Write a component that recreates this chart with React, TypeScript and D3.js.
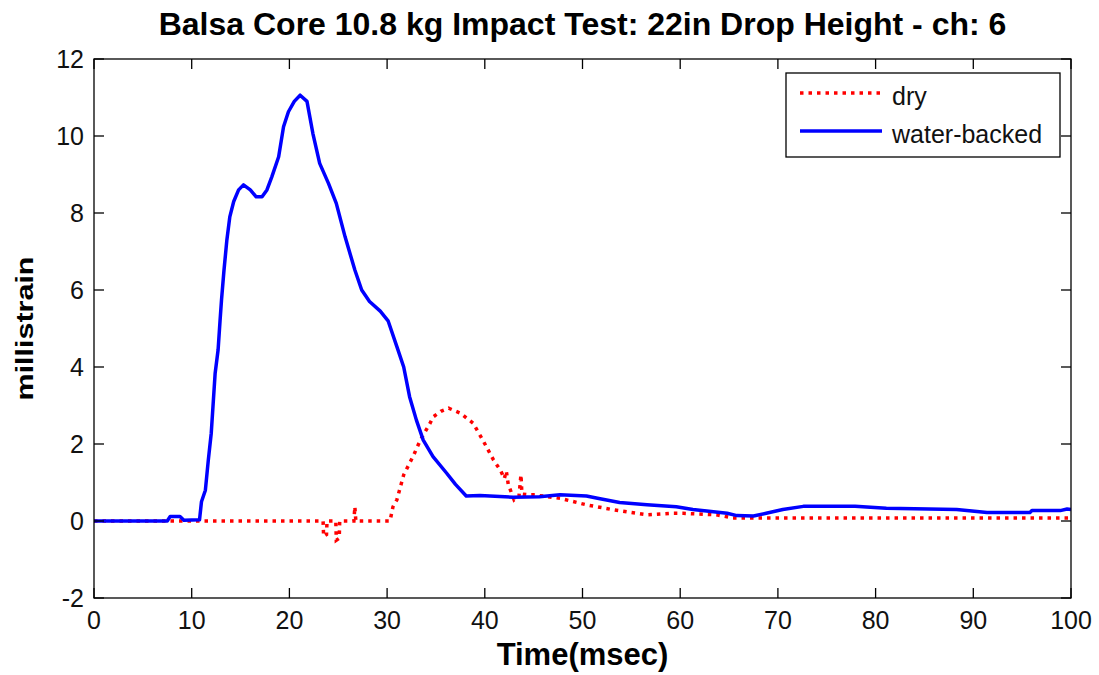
import React from "react";
import * as d3 from "d3";

const W = 1099;
const H = 675;

const titleText = "Balsa Core 10.8 kg Impact Test: 22in Drop Height - ch: 6";
const xLabel = "Time(msec)";
const yLabel = "millistrain";
const xTicks = [0, 10, 20, 30, 40, 50, 60, 70, 80, 90, 100];
const yTicks = [-2, 0, 2, 4, 6, 8, 10, 12];
const seriesNames = ["dry", "water-backed"];

const waterT = [0, 7.5, 7.8, 8.8, 9.2, 10.8, 11.0, 11.4, 11.7, 12.0, 12.2, 12.4, 12.7, 12.9, 13.05, 13.3, 13.6, 13.9, 14.3, 14.8, 15.3, 16.0, 16.6, 17.2, 17.7, 18.2, 18.9, 19.4, 19.9, 20.5, 21.1, 21.8, 22.4, 23.1, 24.0, 24.8, 25.7, 26.7, 27.4, 28.2, 29.3, 30.1, 31.0, 31.7, 32.3, 33.0, 33.7, 34.7, 36.1, 37.0, 38.1, 39.5, 42.9, 45.6, 47.7, 50.4, 51.8, 53.8, 56.6, 59.6, 61.3, 63.4, 64.8, 65.8, 67.5, 68.8, 70.5, 72.6, 77.9, 81.1, 88.3, 91.4, 95.8, 96.0, 98.9, 99.6, 100];
const waterV = [0, 0, 0.12, 0.12, 0.02, 0.03, 0.5, 0.8, 1.58, 2.28, 3.06, 3.84, 4.44, 5.2, 5.74, 6.5, 7.3, 7.9, 8.3, 8.6, 8.73, 8.6, 8.42, 8.42, 8.6, 8.94, 9.46, 10.24, 10.63, 10.9, 11.06, 10.9, 10.07, 9.29, 8.77, 8.25, 7.38, 6.52, 6.0, 5.7, 5.45, 5.2, 4.53, 4.0, 3.23, 2.62, 2.1, 1.67, 1.24, 0.95, 0.65, 0.66, 0.62, 0.63, 0.68, 0.65, 0.58, 0.48, 0.42, 0.37, 0.3, 0.24, 0.2, 0.14, 0.13, 0.2, 0.3, 0.38, 0.38, 0.33, 0.3, 0.22, 0.22, 0.27, 0.27, 0.31, 0.3];

const dryT = [0, 23.45, 23.5, 23.8, 23.85, 24.75, 24.8, 25.1, 25.15, 26.6, 26.7, 26.8, 30.3, 30.6, 31.0, 31.7, 32.7, 33.4, 34.4, 34.7, 35.5, 36.3, 37.5, 38.8, 39.8, 40.9, 41.6, 42.0, 42.2, 42.4, 42.7, 43.0, 43.5, 43.7, 43.8, 44.5, 45.0, 47.7, 50.4, 53.2, 56.6, 59.3, 60.3, 63.7, 65.4, 100];
const dryV = [0, 0, -0.4, -0.35, 0, 0, -0.5, -0.45, 0, 0, 0.37, 0, 0, 0.37, 0.55, 1.2, 1.7, 2.1, 2.54, 2.7, 2.85, 2.93, 2.8, 2.54, 2.1, 1.58, 1.32, 1.1, 1.3, 0.95, 0.75, 0.55, 0.65, 1.2, 0.7, 0.68, 0.68, 0.59, 0.42, 0.29, 0.16, 0.2, 0.2, 0.16, 0.08, 0.08];

const left = 94, right = 1071, top = 59, bottom = 598;
const sans = "'Liberation Sans', Arial, Helvetica, sans-serif";

export default function App() {
  const x = d3.scaleLinear().domain([0, 100]).range([left, right]);
  const y = d3.scaleLinear().domain([-2, 12]).range([bottom, top]);
  const line = d3.line<[number, number]>().x((d) => x(d[0])).y((d) => y(d[1]));
  const water: [number, number][] = waterT.map((t, i) => [t, waterV[i]]);
  const dry: [number, number][] = dryT.map((t, i) => [t, dryV[i]]);
  const tl = 10;

  return (
    <svg width={W} height={H} style={{ position: "absolute", left: 0, top: 0, background: "#fff" }} fontFamily={sans}>
      <rect x={0} y={0} width={W} height={H} fill="#fff" />
      <defs>
        <clipPath id="plotclip">
          <rect x={left} y={top} width={right - left} height={bottom - top} />
        </clipPath>
      </defs>
      <g clipPath="url(#plotclip)">
        <path d={line(dry) || ""} fill="none" stroke="#ff0000" strokeWidth={3.5} strokeDasharray="3.5,5" />
        <path d={line(water) || ""} fill="none" stroke="#0000ff" strokeWidth={3.5} strokeLinejoin="round" />
      </g>
      <rect x={left} y={top} width={right - left} height={bottom - top} fill="none" stroke="#000" strokeWidth={1.3} />
      {xTicks.map((t) => (
        <g key={"x" + t}>
          <line x1={x(t)} x2={x(t)} y1={bottom} y2={bottom - tl} stroke="#000" strokeWidth={1.3} />
          <line x1={x(t)} x2={x(t)} y1={top} y2={top + tl} stroke="#000" strokeWidth={1.3} />
          <text x={x(t)} y={629} fontSize={25} textAnchor="middle" fill="#111">{t}</text>
        </g>
      ))}
      {yTicks.map((t) => (
        <g key={"y" + t}>
          <line x1={left} x2={left + tl} y1={y(t)} y2={y(t)} stroke="#000" strokeWidth={1.3} />
          <line x1={right} x2={right - tl} y1={y(t)} y2={y(t)} stroke="#000" strokeWidth={1.3} />
          <text x={84} y={y(t) + 9} fontSize={25} textAnchor="end" fill="#111">{t}</text>
        </g>
      ))}
      <text x={(left + right) / 2} y={35} fontSize={32} fontWeight="bold" textAnchor="middle" fill="#000">{titleText}</text>
      <text x={(left + right) / 2} y={665} fontSize={31} fontWeight="bold" textAnchor="middle" fill="#000">{xLabel}</text>
      <text transform={`translate(33,${(257 + 400) / 2}) rotate(-90) scale(1.27,1)`} x={0} y={0} fontSize={24} fontWeight="bold" textAnchor="middle" fill="#000">{yLabel}</text>
      <g>
        <rect x={786} y={73} width={274} height={84} fill="#fff" stroke="#000" strokeWidth={1.3} />
        <line x1={800} x2={880} y1={93} y2={93} stroke="#ff0000" strokeWidth={3.5} strokeDasharray="3.5,5" />
        <text x={892} y={105} fontSize={25} fill="#111">{seriesNames[0]}</text>
        <line x1={800} x2={882} y1={131} y2={131} stroke="#0000ff" strokeWidth={3.5} />
        <text x={892} y={143} fontSize={25} fill="#111">{seriesNames[1]}</text>
      </g>
    </svg>
  );
}
